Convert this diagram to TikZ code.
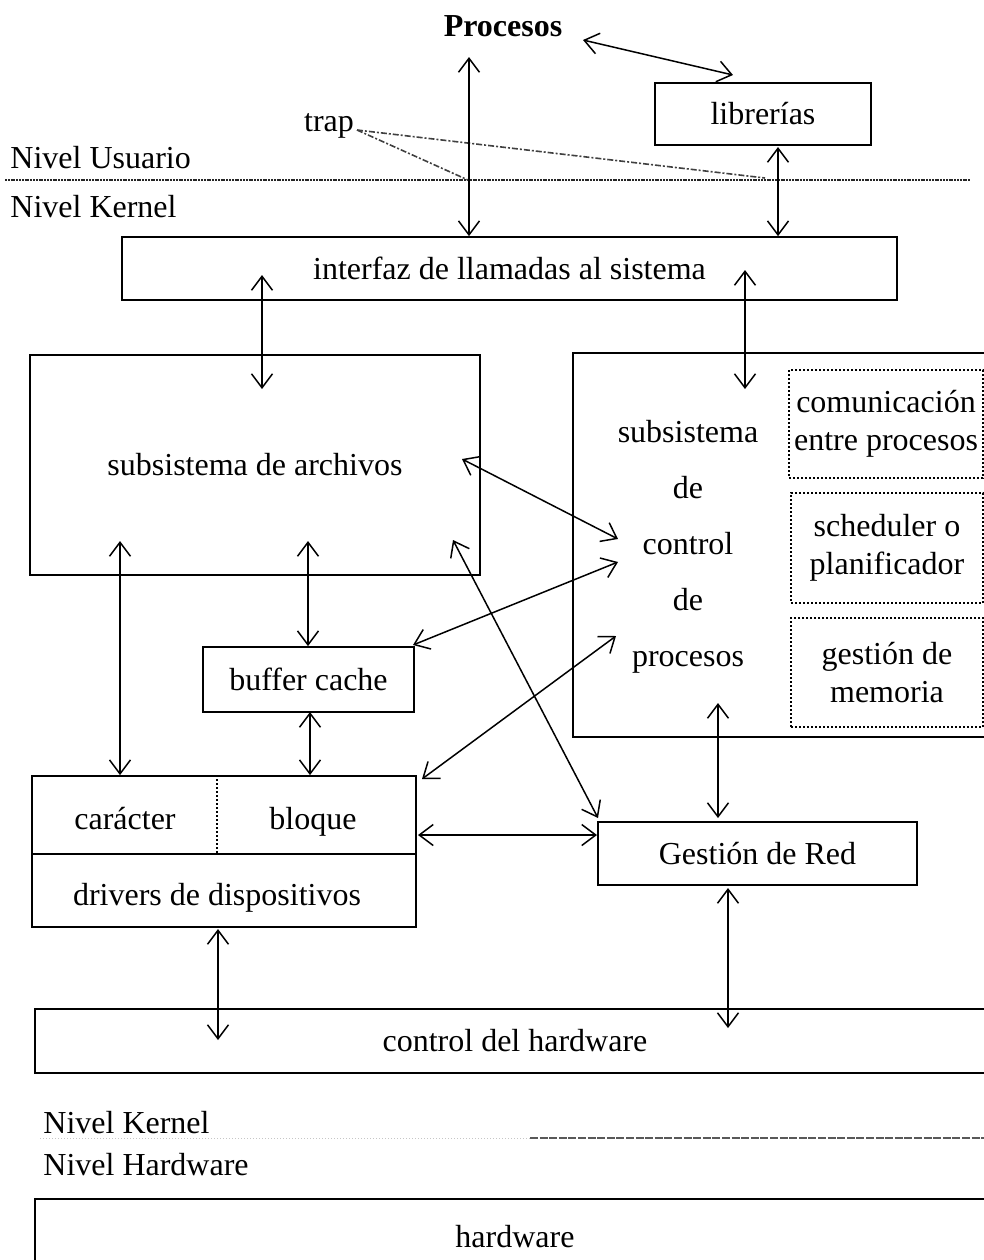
\documentclass[tikz,border=0pt]{standalone}
\usepackage{fontspec}
\setmainfont{Liberation Serif}
\usetikzlibrary{arrows.meta}
\begin{document}
\begin{tikzpicture}[x=0.5pt,y=-0.5pt,
  every node/.style={font=\fontsize{16}{19}\selectfont},
  box/.style={draw,line width=0.85pt,inner sep=0pt,align=center},
  dbox/.style={draw,line width=1pt,densely dotted,inner sep=0pt,align=center},
  lbl/.style={inner sep=0pt,anchor=base west},
  arr/.style={line width=0.75pt,{Straight Barb[length=7pt,width=10.5pt]}-{Straight Barb[length=7pt,width=10.5pt]}},
  trapline/.style={line width=0.8pt,black!75,dash pattern=on 3pt off 1pt on 1pt off 1pt},
  levelline/.style={line width=0.8pt,black!85,dash pattern=on 1pt off 0.4pt}]
\useasboundingbox (0,0) rectangle (984,1260);
\clip (0,0) rectangle (984,1260);

% level labels and separators
\node[lbl] (nu) at (10,168) {Nivel Usuario};
\node[lbl] (nk) at (10,217) {Nivel Kernel};
\node[lbl] (nk2) at (43,1133) {Nivel Kernel};
\node[lbl] (nh) at (43,1175) {Nivel Hardware};
\coordinate (ul) at (5,180);
\coordinate (ur) at (970,180);
\draw[levelline] (ul) -- (ur);
\coordinate (kl) at (40,1138);
\coordinate (km) at (530,1138);
\coordinate (kr) at (984,1138);
\draw[line width=0.5pt,gray!45,densely dotted] (kl) -- (km);
\draw[line width=0.8pt,black!65,dash pattern=on 4pt off 0.8pt] (km) -- (kr);

% user level
\node[inner sep=0pt,font=\fontsize{16}{19}\selectfont\bfseries,anchor=base] (proc) at (503,36) {Procesos};
\node[box,minimum width=108pt,minimum height=31pt] (lib) at (763,114) {librerías};
\node[inner sep=0pt,anchor=base] (trap) at (329,131) {trap};

% kernel boxes
\node[box,minimum width=387.5pt,minimum height=31.5pt] (ifz) at (509.5,268.5) {interfaz de llamadas al sistema};
\node[box,minimum width=225pt,minimum height=110pt] (fs) at (255,465) {subsistema de archivos};
\node[box,minimum width=211pt,minimum height=192pt] (pc) at (784,545) {};
\node[inner sep=0pt,align=center,font=\fontsize{16}{28}\selectfont] (pct) at (688,547) {subsistema\\de\\control\\de\\procesos};
\node[dbox,minimum width=97pt,minimum height=54pt] (ipc) at (886,424) {comunicación\\entre procesos};
\node[dbox,minimum width=96pt,minimum height=55pt] (sch) at (887,548) {scheduler o\\planificador};
\node[dbox,minimum width=96pt,minimum height=54.5pt] (mem) at (887,672.5) {gestión de\\memoria};
\node[box,minimum width=105.5pt,minimum height=32.5pt] (bc) at (308.5,679.5) {buffer cache};

% device drivers box with its two halves
\node[box,minimum width=192pt,minimum height=75.5pt] (drv) at (224,851.5) {};
\coordinate (hsep) at (0,854);
\coordinate (vsep) at (217,854);
\draw[line width=0.85pt] (drv.west |- hsep) -- (drv.east |- hsep);
\draw[line width=1pt,densely dotted] (drv.north -| vsep) -- (vsep);
\node[inner sep=0pt,anchor=base] (car) at (125,829) {carácter};
\node[inner sep=0pt,anchor=base] (blo) at (313,829) {bloque};
\node[inner sep=0pt,anchor=base] (drvt) at (217,905) {drivers de dispositivos};

\node[box,minimum width=159.5pt,minimum height=31.5pt] (red) at (757.5,853.5) {Gestión de Red};
\node[box,minimum width=480pt,minimum height=32pt] (hwc) at (515,1041) {control del hardware};
\node[box,minimum width=480pt,minimum height=38pt] (hw) at (515,1237) {hardware};

% trap traces
\coordinate (tr) at (357,130);
\coordinate (t1) at (468,180);
\coordinate (t2) at (765,178);
\draw[trapline] (tr) -- (t1);
\draw[trapline] (tr) -- (t2);

% connector end points
\coordinate (p1) at (583,40);
\coordinate (p2) at (733,75);
\coordinate (s1) at (469,57);
\coordinate (s2) at (778,147);
\coordinate (f1) at (262,275);
\coordinate (f2) at (262,389);
\coordinate (c1) at (745,270);
\coordinate (c2) at (745,389);
\coordinate (fa) at (120,541);
\coordinate (fb) at (308,541);
\coordinate (bb) at (310,712);
\coordinate (fc) at (462,459);
\coordinate (pa) at (618,539);
\coordinate (bcx) at (413,645);
\coordinate (pb) at (618,562);
\coordinate (dx) at (422,779);
\coordinate (pcx) at (616,636);
\coordinate (fd) at (453,540);
\coordinate (rd) at (598,818);
\coordinate (dr) at (418,835);
\coordinate (rl) at (597,835);
\coordinate (pu) at (718,703);
\coordinate (ru) at (718,818);
\coordinate (db) at (218,929);
\coordinate (hb) at (218,1040);
\coordinate (rb) at (728,888);
\coordinate (hr) at (728,1028);

% connectors
\draw[arr] (p1) -- (p2);
\draw[arr] (s1) -- (ifz.north -| s1);
\draw[arr] (s2) -- (ifz.north -| s2);
\draw[arr] (f1) -- (f2);
\draw[arr] (c1) -- (c2);
\draw[arr] (fa) -- (drv.north -| fa);
\draw[arr] (fb) -- (bc.north -| fb);
\draw[arr] (bb) -- (drv.north -| bb);
\draw[arr] (fc) -- (pa);
\draw[arr] (bcx) -- (pb);
\draw[arr] (dx) -- (pcx);
\draw[arr] (fd) -- (rd);
\draw[arr] (dr) -- (rl);
\draw[arr] (pu) -- (ru);
\draw[arr] (db) -- (hb);
\draw[arr] (rb) -- (hr);
\end{tikzpicture}
\end{document}
